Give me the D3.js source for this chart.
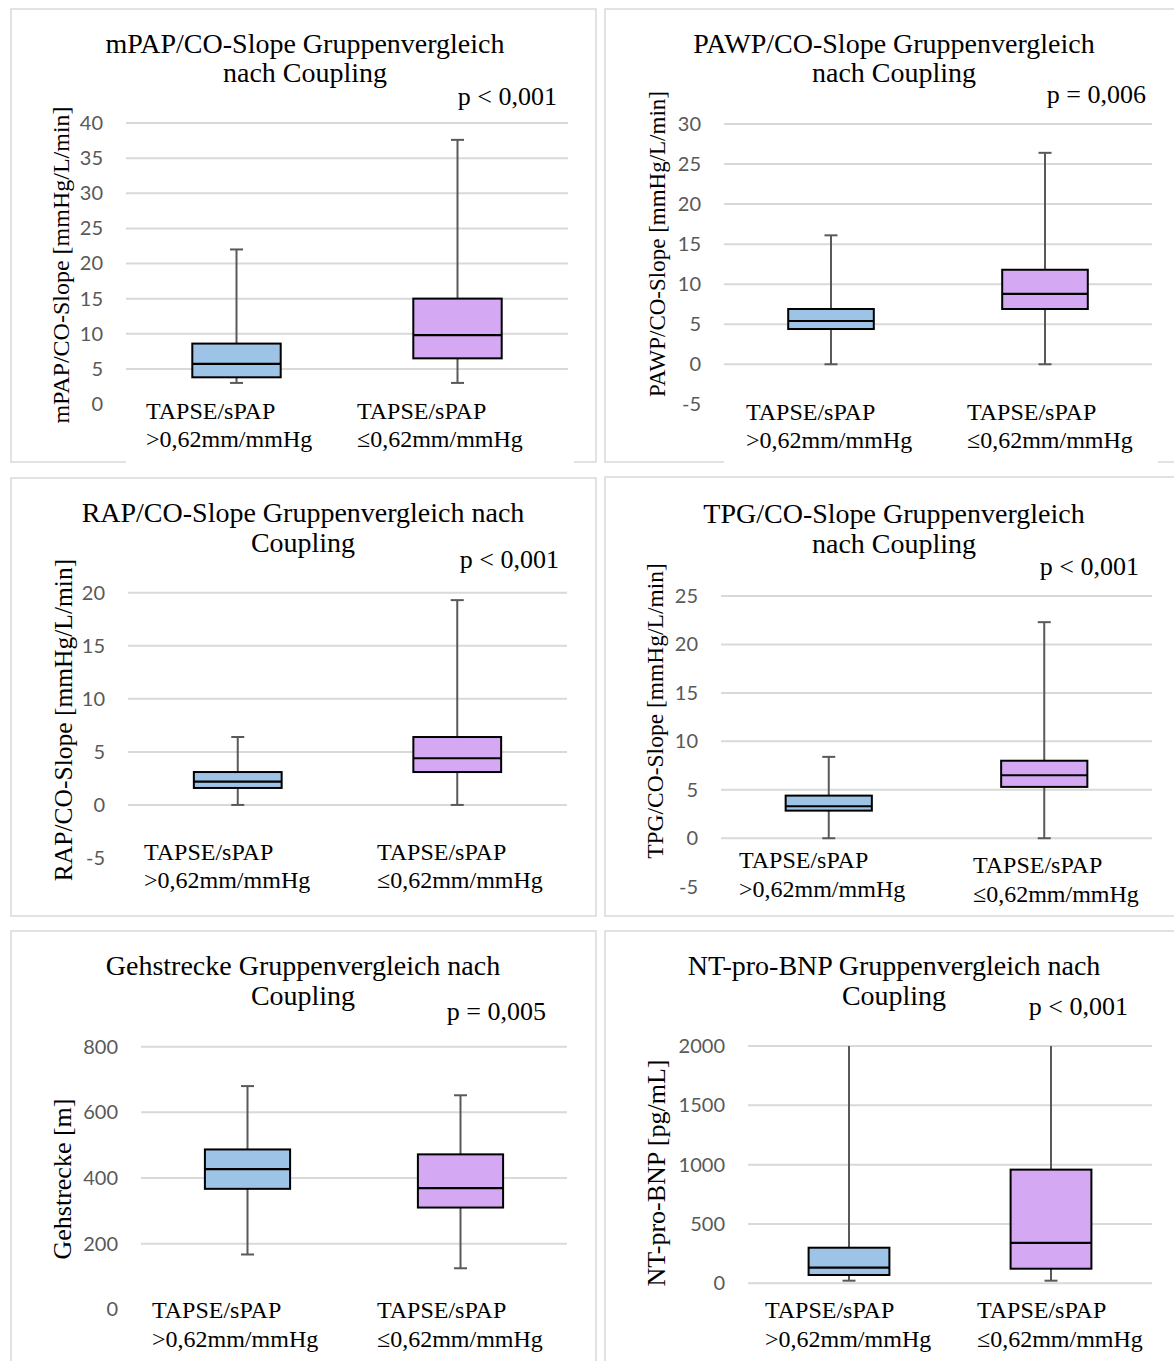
<!DOCTYPE html>
<html>
<head>
<meta charset="utf-8">
<script src="https://cdn.jsdelivr.net/npm/d3@7"></script>
<style>
  html, body { margin: 0; padding: 0; background: #fff; }
  svg { display: block; }
</style>
</head>
<body>
<script>
// ---------------- data ----------------
const groups     = ["high", "low"];
const groupLine1 = ["TAPSE/sPAP", "TAPSE/sPAP"];
const groupLine2 = [">0,62mm/mmHg", "≤0,62mm/mmHg"];

const titleLine1 = [
  "mPAP/CO-Slope Gruppenvergleich",
  "PAWP/CO-Slope Gruppenvergleich",
  "RAP/CO-Slope Gruppenvergleich nach",
  "TPG/CO-Slope Gruppenvergleich",
  "Gehstrecke Gruppenvergleich nach",
  "NT-pro-BNP Gruppenvergleich nach"
];
const titleLine2 = ["nach Coupling", "nach Coupling", "Coupling", "nach Coupling", "Coupling", "Coupling"];
const pTexts  = ["p < 0,001", "p = 0,006", "p < 0,001", "p < 0,001", "p = 0,005", "p < 0,001"];
const yTitles = [
  "mPAP/CO-Slope [mmHg/L/min]",
  "PAWP/CO-Slope [mmHg/L/min]",
  "RAP/CO-Slope [mmHg/L/min]",
  "TPG/CO-Slope [mmHg/L/min]",
  "Gehstrecke [m]",
  "NT-pro-BNP [pg/mL]"
];
const yDomains = [[0, 40], [-5, 30], [-5, 20], [-5, 25], [0, 800], [0, 2000]];
const yTickStep = [5, 5, 5, 5, 200, 500];

// five-number summaries per group: [min, q1, median, q3, max]
const mpapStats = [[3.0, 3.8, 5.7, 8.6, 22.0],   [3.0, 6.5, 9.8, 15.0, 37.6]];
const pawpStats = [[0, 4.4, 5.4, 6.9, 16.1],     [0, 6.9, 8.8, 11.8, 26.4]];
const rapStats  = [[0, 1.6, 2.2, 3.1, 6.4],      [0, 3.1, 4.4, 6.4, 19.3]];
const tpgStats  = [[0, 2.85, 3.3, 4.4, 8.4],     [0, 5.3, 6.5, 8.0, 22.3]];
const gehStats  = [[167, 367, 427, 487, 680],    [125, 310, 369, 472, 652]];
const bnpStats  = [[22, 70, 132, 300, 2000],     [22, 123, 340, 958, 2000]]; // upper whiskers run off the axis

const allStats = [mpapStats, pawpStats, rapStats, tpgStats, gehStats, bnpStats];

// ---------------- layout ----------------
const W = 1174, H = 1361;
const SERIF = "'Liberation Serif', 'Times New Roman', Times, serif";
const fills = ["#9dc3e6", "#d5a8f3"];

// per panel: frame, plot box, y pixel range, text anchors, white label-box cover
const layout = [
  { frame:[11,9,585,453],   left:126, right:568,  yr:[404,123],
    title:[305,53,82], p:[557,105], yt:[69,265,24],  labX:[146,357], labY:[[419,447],[419,447]], cover:[392,466] },
  { frame:[605,9,580,453],  left:724, right:1152, yr:[404.3,124],
    title:[894,53,82], p:[1146,103], yt:[665,244,23], labX:[746,967], labY:[[420,448],[420,448]], cover:[380,466] },
  { frame:[11,478,585,438], left:128, right:567,  yr:[858,592.7],
    title:[303,522,552], p:[559,568], yt:[72,720,25.5], labX:[144,377], labY:[[860,888],[860,888]], cover:[835,906] },
  { frame:[605,477,580,439],left:721, right:1152, yr:[886.7,596],
    title:[894,523,553], p:[1139,575], yt:[663,711,23.5], labX:[739,973], labY:[[868,897],[873,902]], cover:[862,906] },
  { frame:[11,931,585,460], left:141, right:567,  yr:[1309.3,1046.7],
    title:[303,975,1005], p:[546,1020], yt:[71,1179,26], labX:[152,377], labY:[[1318,1347],[1318,1347]], cover:[1292,1370] },
  { frame:[605,931,580,460],left:748, right:1152, yr:[1283.3,1046],
    title:[894,975,1005], p:[1128,1015], yt:[665,1173,26], labX:[765,977], labY:[[1318,1347],[1318,1347]], cover:null }
];

const svg = d3.select("body").append("svg")
  .attr("width", W).attr("height", H)
  .attr("font-family", SERIF);

layout.forEach((L, i) => {
  const g = svg.append("g");
  const stats = allStats[i];
  const dom = yDomains[i];

  // panel frame
  g.append("rect")
    .attr("x", L.frame[0]).attr("y", L.frame[1])
    .attr("width", L.frame[2]).attr("height", L.frame[3])
    .attr("fill", "#fff").attr("stroke", "#d9d9d9").attr("stroke-width", 1.5);

  const x = d3.scaleBand().domain(groups).range([L.left, L.right]);
  const y = d3.scaleLinear().domain(dom).range(L.yr);
  const ticks = d3.range(dom[0], dom[1] + yTickStep[i] / 2, yTickStep[i]);

  // gridlines
  g.append("g").selectAll("line").data(ticks).join("line")
    .attr("x1", L.left).attr("x2", L.right)
    .attr("y1", d => y(d)).attr("y2", d => y(d))
    .attr("stroke", "#d9d9d9").attr("stroke-width", 2);

  // y axis labels
  const ax = g.append("g").attr("transform", `translate(${L.left},0)`)
    .call(d3.axisLeft(y).tickValues(ticks).tickSize(0).tickPadding(23).tickFormat(d => String(d)));
  ax.select(".domain").remove();
  ax.selectAll("text")
    .attr("font-family", "Lato, 'Open Sans', sans-serif")
    .attr("font-size", 20).attr("fill", "#595959");

  // boxes
  const bw = x.bandwidth() * 0.4, capW = 13;
  const bx = g.append("g").selectAll("g")
    .data(stats.map((s, k) => ({ key: groups[k], s, fill: fills[k] })))
    .join("g")
    .attr("transform", d => `translate(${x(d.key) + x.bandwidth() / 2},0)`);

  const wh = { stroke: "#595959", "stroke-width": 2 };
  const setAttrs = (sel, o) => { Object.entries(o).forEach(([k, v]) => sel.attr(k, v)); return sel; };

  setAttrs(bx.append("line").attr("x1", 0).attr("x2", 0)
    .attr("y1", d => y(d.s[0])).attr("y2", d => y(d.s[1])), wh);
  setAttrs(bx.append("line").attr("x1", 0).attr("x2", 0)
    .attr("y1", d => y(d.s[3])).attr("y2", d => y(d.s[4])), wh);
  setAttrs(bx.append("line").attr("x1", -capW / 2).attr("x2", capW / 2)
    .attr("y1", d => y(d.s[0])).attr("y2", d => y(d.s[0])), wh);
  setAttrs(bx.filter(d => d.s[4] < dom[1]).append("line")
    .attr("x1", -capW / 2).attr("x2", capW / 2)
    .attr("y1", d => y(d.s[4])).attr("y2", d => y(d.s[4])), wh);

  bx.append("rect")
    .attr("x", -bw / 2).attr("width", bw)
    .attr("y", d => y(d.s[3])).attr("height", d => y(d.s[1]) - y(d.s[3]))
    .attr("fill", d => d.fill).attr("stroke", "#000").attr("stroke-width", 2);
  bx.append("line")
    .attr("x1", -bw / 2).attr("x2", bw / 2)
    .attr("y1", d => y(d.s[2])).attr("y2", d => y(d.s[2]))
    .attr("stroke", "#000").attr("stroke-width", 2.2);

  // white text box under the plot (hides lowest gridline / frame edge)
  if (L.cover) {
    g.append("rect")
      .attr("x", L.left).attr("y", L.cover[0])
      .attr("width", L.right - L.left + 6).attr("height", L.cover[1] - L.cover[0])
      .attr("fill", "#fff");
  }

  // titles
  g.append("text").attr("x", L.title[0]).attr("y", L.title[1])
    .attr("text-anchor", "middle").attr("font-size", 28).text(titleLine1[i]);
  g.append("text").attr("x", L.title[0]).attr("y", L.title[2])
    .attr("text-anchor", "middle").attr("font-size", 28).text(titleLine2[i]);

  // p value
  g.append("text").attr("x", L.p[0]).attr("y", L.p[1])
    .attr("text-anchor", "end").attr("font-size", 26).text(pTexts[i]);

  // y title
  g.append("text")
    .attr("transform", `translate(${L.yt[0]},${L.yt[1]}) rotate(-90)`)
    .attr("text-anchor", "middle").attr("font-size", L.yt[2]).text(yTitles[i]);

  // category labels
  groups.forEach((gk, k) => {
    g.append("text").attr("x", L.labX[k]).attr("y", L.labY[k][0])
      .attr("font-size", 24).text(groupLine1[k]);
    g.append("text").attr("x", L.labX[k]).attr("y", L.labY[k][1])
      .attr("font-size", 24).text(groupLine2[k]);
  });
});
</script>
</body>
</html>
